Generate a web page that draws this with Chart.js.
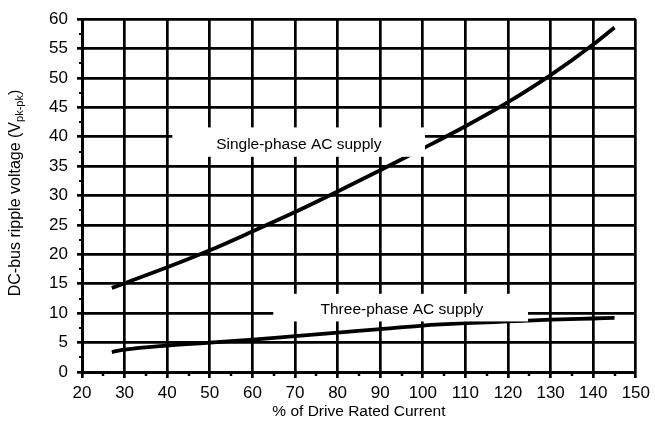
<!DOCTYPE html>
<html>
<head>
<meta charset="utf-8">
<script src="https://cdn.jsdelivr.net/npm/chart.js@4/dist/chart.umd.min.js"></script>
<style>
  html, body { margin: 0; padding: 0; background: #fff; }
  canvas { display: block; }
</style>
</head>
<body>
<canvas id="ripple" width="655" height="427"></canvas>
<script>
// values
const CURRENT_PCT = [27, 30, 40, 50, 60, 70, 80, 90, 100, 110, 120, 130, 140, 145];
const RIPPLE_SINGLE = [14.3, 15.1, 17.8, 20.7, 23.9, 27.2, 30.7, 34.3, 38.0, 41.8, 45.9, 50.5, 55.7, 58.6];
const RIPPLE_THREE = [3.4, 3.8, 4.5, 5.0, 5.5, 6.1, 6.7, 7.3, 7.9, 8.3, 8.6, 8.9, 9.1, 9.2];
const SERIES_LABELS = ['Single-phase AC supply', 'Three-phase AC supply'];
const X_RANGE = [20, 150];
const Y_RANGE = [0, 60];

const FONT = '"Liberation Sans", Arial, sans-serif';

// white label boxes that sit over the grid (data units)
const LABEL_BOXES = [
  { text: SERIES_LABELS[0], x0: 41.2, x1: 100.5, y0: 36.6, y1: 41.6, tx: 70.9, ty: 38.7 },
  { text: SERIES_LABELS[1], x0: 64.9, x1: 124.7, y0: 8.6, y1: 13.3, tx: 95.1, ty: 10.6 }
];

function points(xs, ys) {
  return xs.map((x, i) => ({ x, y: ys[i] }));
}

function curve(label, data) {
  return {
    label,
    data,
    borderColor: '#000',
    borderWidth: 3.8,
    pointRadius: 0,
    cubicInterpolationMode: 'monotone',
    fill: false
  };
}

const minorTicks = {
  id: 'minorTicks',
  afterDraw(chart) {
    const { ctx, scales: { x, y } } = chart;
    ctx.save();
    ctx.strokeStyle = '#000';
    ctx.lineWidth = 2;
    for (let v = Y_RANGE[0] + 2.5; v < Y_RANGE[1]; v += 5) {
      const py = Math.round(y.getPixelForValue(v));
      ctx.beginPath();
      ctx.moveTo(x.left - 3, py);
      ctx.lineTo(x.left, py);
      ctx.stroke();
    }
    ctx.lineWidth = 2.5;
    for (let v = X_RANGE[0] + 5; v < X_RANGE[1]; v += 10) {
      const px = Math.round(x.getPixelForValue(v));
      ctx.beginPath();
      ctx.moveTo(px, y.bottom + 1);
      ctx.lineTo(px, y.bottom + 4);
      ctx.stroke();
    }
    ctx.restore();
  }
};

const labelBoxes = {
  id: 'labelBoxes',
  afterDatasetsDraw(chart) {
    const { ctx, scales: { x, y } } = chart;
    ctx.save();
    LABEL_BOXES.forEach(b => {
      const l = x.getPixelForValue(b.x0);
      const r = x.getPixelForValue(b.x1);
      const t = y.getPixelForValue(b.y1);
      const btm = y.getPixelForValue(b.y0);
      ctx.fillStyle = '#fff';
      ctx.fillRect(l, t, r - l, btm - t);
      ctx.fillStyle = '#000';
      ctx.font = `15.5px ${FONT}`;
      ctx.textAlign = 'center';
      ctx.textBaseline = 'middle';
      ctx.fillText(b.text, x.getPixelForValue(b.tx), y.getPixelForValue(b.ty));
    });
    ctx.restore();
  }
};

// y title with a subscript, drawn by hand
const yTitle = {
  id: 'yTitle',
  afterDraw(chart) {
    const { ctx } = chart;
    const parts = [
      { t: 'DC-bus ripple voltage (V', size: 16, dy: 0 },
      { t: 'pk-pk', size: 11, dy: 4 },
      { t: ')', size: 16, dy: 0 }
    ];
    ctx.save();
    let total = 0;
    parts.forEach(p => {
      ctx.font = `${p.size}px ${FONT}`;
      p.w = ctx.measureText(p.t).width;
      total += p.w;
    });
    ctx.translate(16, 193);
    ctx.rotate(-Math.PI / 2);
    ctx.fillStyle = '#000';
    ctx.textBaseline = 'middle';
    ctx.textAlign = 'left';
    let cx = -total / 2;
    parts.forEach(p => {
      ctx.font = `${p.size}px ${FONT}`;
      ctx.fillText(p.t, cx, p.dy);
      cx += p.w;
    });
    ctx.restore();
  }
};

new Chart(document.getElementById('ripple'), {
  type: 'line',
  data: {
    datasets: [
      curve(SERIES_LABELS[0], points(CURRENT_PCT, RIPPLE_SINGLE)),
      curve(SERIES_LABELS[1], points(CURRENT_PCT, RIPPLE_THREE))
    ]
  },
  options: {
    responsive: false,
    animation: false,
    devicePixelRatio: 1,
    layout: { padding: { top: 15, right: 15, left: 0, bottom: 0 } },
    plugins: { legend: { display: false }, tooltip: { enabled: false } },
    scales: {
      x: {
        type: 'linear',
        min: X_RANGE[0],
        max: X_RANGE[1],
        afterFit(scale) { scale.height = 55; },
        ticks: { stepSize: 10, color: '#000', font: { family: FONT, size: 17 }, padding: 5, maxRotation: 0 },
        grid: { color: '#000', lineWidth: 2.7, tickLength: 6, tickColor: '#000', tickWidth: 2.7 },
        border: { color: '#000', width: 3 },
        title: {
          display: true,
          text: '% of Drive Rated Current',
          color: '#000',
          font: { family: FONT, size: 15.5 },
          padding: { top: 0, bottom: 6 }
        }
      },
      y: {
        min: Y_RANGE[0],
        max: Y_RANGE[1],
        afterFit(scale) { scale.width = 82; },
        ticks: { stepSize: 5, color: '#000', font: { family: FONT, size: 17 }, padding: 9 },
        grid: { color: '#000', lineWidth: 2.7, tickLength: 5, tickColor: '#000', tickWidth: 2.7 },
        border: { color: '#000', width: 3 }
      }
    }
  },
  plugins: [minorTicks, labelBoxes, yTitle]
});
</script>
</body>
</html>
